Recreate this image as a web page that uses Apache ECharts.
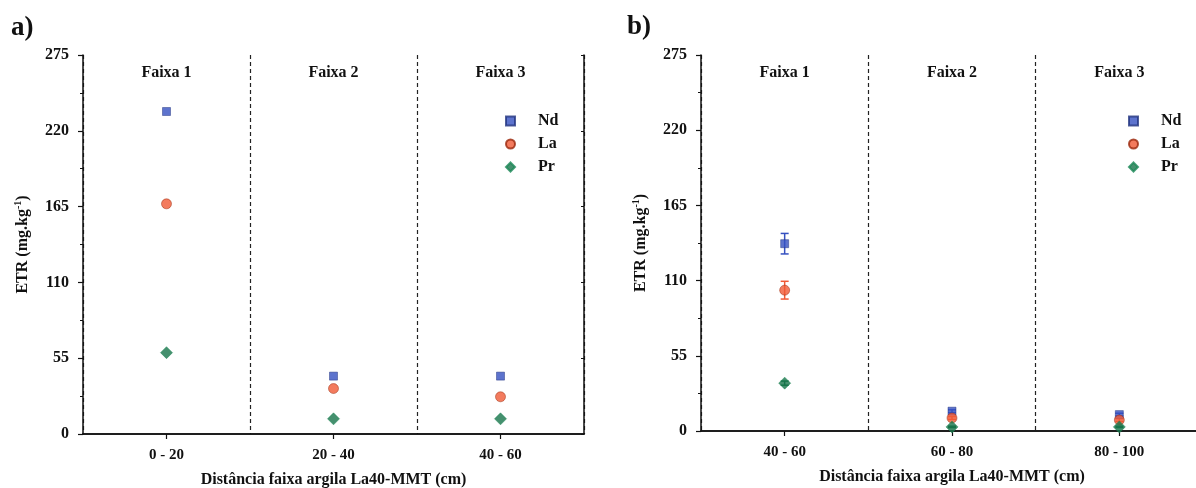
<!DOCTYPE html>
<html>
<head>
<meta charset="utf-8">
<script src="https://cdn.jsdelivr.net/npm/echarts@6/dist/echarts.min.js"></script>
<style>
  html, body { margin: 0; padding: 0; background: #fff; }
  #chart { width: 1196px; height: 488px; }
</style>
</head>
<body>
<div id="chart"></div>
<script>
// Depth ranges (cm) for each panel
const catsA = ['0 - 20', '20 - 40', '40 - 60'];
const catsB = ['40 - 60', '60 - 80', '80 - 100'];
const bandLabels = ['Faixa 1', 'Faixa 2', 'Faixa 3'];
const yTicks = [0, 55, 110, 165, 220, 275];

// Panel a) ETR concentrations (mg/kg)
const ndA = [234, 42, 42];
const laA = [167, 33, 27];
const prA = [59, 11, 11];

// Panel b) ETR concentrations (mg/kg) with standard deviation
const ndB = [137, 14.5, 12];
const laB = [103, 9.5, 8];
const prB = [35, 3, 3];
const ndErrB = [7.5, 1, 1];
const laErrB = [6.5, 1, 1];
const prErrB = [1.5, 0.5, 0.5];

const FONT = '"Liberation Serif", "Times New Roman", serif';
const C_ND = '#3550c0';
const C_LA = '#f05a36';
const C_PR = '#17744a';

const chart = echarts.init(document.getElementById('chart'));

const grids = [
  { left: 83, width: 501, top: 55, bottom: 54, outerBoundsMode: 'none' },
  { left: 701, width: 502, top: 55, bottom: 57, outerBoundsMode: 'none' }
];

function xAxes(gi, cats) {
  return [
    {
      type: 'category', gridIndex: gi, data: cats, position: 'bottom',
      name: 'Distância faixa argila La40-MMT (cm)', nameLocation: 'middle', nameGap: 38,
      nameTextStyle: { fontFamily: FONT, fontWeight: 'bold', fontSize: 16, color: '#111' },
      axisLine: { lineStyle: { color: '#111', width: 1.5 } },
      axisTick: { show: true, alignWithLabel: true, length: 5, lineStyle: { color: '#111', width: 1.2 } },
      axisLabel: { fontFamily: FONT, fontWeight: 'bold', fontSize: 15, color: '#111', margin: 14 },
      splitLine: { show: true, lineStyle: { color: '#222', type: [4, 3], width: 1.2 } }
    },
    {
      type: 'category', gridIndex: gi, data: bandLabels, position: 'top',
      axisLine: { lineStyle: { color: '#111', width: 1.5 } },
      axisTick: { show: false },
      axisLabel: { inside: true, margin: 10, fontFamily: FONT, fontWeight: 'bold', fontSize: 16, color: '#111' },
      splitLine: { show: false }
    }
  ];
}

function yAxes(gi) {
  return [
    {
      type: 'value', gridIndex: gi, min: 0, max: 275, interval: 55, position: 'left',
      name: '{a|ETR (mg.kg}{s|-1}{a|)}', nameLocation: 'middle', nameGap: 51, nameRotate: 90,
      nameTextStyle: {
        rich: {
          a: { fontFamily: FONT, fontWeight: 'bold', fontSize: 16, color: '#111' },
          s: { fontFamily: FONT, fontWeight: 'bold', fontSize: 10, color: '#111', verticalAlign: 'top', padding: [0, 0, 9, 0] }
        }
      },
      axisLine: { show: true, lineStyle: { color: '#111', width: 1.5 } },
      axisTick: { show: true, length: 5, lineStyle: { color: '#111', width: 1.2 } },
      minorTick: { show: true, splitNumber: 2, length: 3, lineStyle: { color: '#111', width: 1 } },
      axisLabel: {
        fontFamily: FONT, fontWeight: 'bold', fontSize: 16, color: '#111', margin: 14,
        formatter: v => (yTicks.indexOf(v) >= 0 ? String(v) : '')
      },
      splitLine: { show: false }
    },
    {
      type: 'value', gridIndex: gi, min: 0, max: 275, interval: 55, position: 'right',
      axisLine: { show: true, lineStyle: { color: '#111', width: 1.5 } },
      axisTick: { show: true, inside: true, length: 3, lineStyle: { color: '#111' } },
      axisLabel: { show: false },
      splitLine: { show: false }
    }
  ];
}

function scatter(name, data, xi, yi, color, symbol, size) {
  return {
    type: 'scatter', name: name, xAxisIndex: xi, yAxisIndex: yi, data: data,
    symbol: symbol, symbolSize: size, z: 5,
    itemStyle: { color: color, borderColor: echarts.color.modifyHSL(color, null, null, 0.32), borderWidth: 0.6 }
  };
}

function errorBars(color, vals, errs, xi, yi) {
  return {
    type: 'custom', xAxisIndex: xi, yAxisIndex: yi, z: 4, silent: true,
    data: vals.map((v, i) => [i, v - errs[i], v + errs[i]]),
    renderItem: function (params, api) {
      const lo = api.coord([api.value(0), api.value(1)]);
      const hi = api.coord([api.value(0), api.value(2)]);
      const w = 4;
      const st = { stroke: color, lineWidth: 1.5 };
      return {
        type: 'group', children: [
          { type: 'line', shape: { x1: lo[0], y1: lo[1], x2: hi[0], y2: hi[1] }, style: st },
          { type: 'line', shape: { x1: lo[0] - w, y1: lo[1], x2: lo[0] + w, y2: lo[1] }, style: st },
          { type: 'line', shape: { x1: hi[0] - w, y1: hi[1], x2: hi[0] + w, y2: hi[1] }, style: st }
        ]
      };
    }
  };
}

const legendBase = {
  orient: 'vertical', itemWidth: 9, itemHeight: 9, itemGap: 7,
  textStyle: { fontFamily: FONT, fontWeight: 'bold', fontSize: 16, lineHeight: 14, color: '#111', padding: [0, 0, 0, 18] },
  data: ['Nd', 'La', 'Pr']
};

const option = {
  backgroundColor: '#fff',
  animation: false,
  grid: grids,
  xAxis: [...xAxes(0, catsA), ...xAxes(1, catsB)],
  yAxis: [...yAxes(0), ...yAxes(1)],
  legend: [
    Object.assign({}, legendBase, { left: 500, top: 108 }),
    Object.assign({}, legendBase, { left: 1123, top: 108 })
  ],
  graphic: [
    { type: 'text', left: 11, top: 15, style: { text: 'a)', font: 'bold 27px ' + FONT, fill: '#111' } },
    { type: 'text', left: 627, top: 14, style: { text: 'b)', font: 'bold 27px ' + FONT, fill: '#111' } }
  ],
  series: [
    scatter('Nd', ndA, 0, 0, C_ND, 'rect', 8),
    scatter('La', laA, 0, 0, C_LA, 'circle', 10),
    scatter('Pr', prA, 0, 0, C_PR, 'diamond', 12),
    errorBars(C_ND, ndB, ndErrB, 2, 2),
    errorBars(C_LA, laB, laErrB, 2, 2),
    errorBars(C_PR, prB, prErrB, 2, 2),
    scatter('Nd', ndB, 2, 2, C_ND, 'rect', 8),
    scatter('La', laB, 2, 2, C_LA, 'circle', 10),
    scatter('Pr', prB, 2, 2, C_PR, 'diamond', 12)
  ]
};

chart.setOption(option);
</script>
</body>
</html>
